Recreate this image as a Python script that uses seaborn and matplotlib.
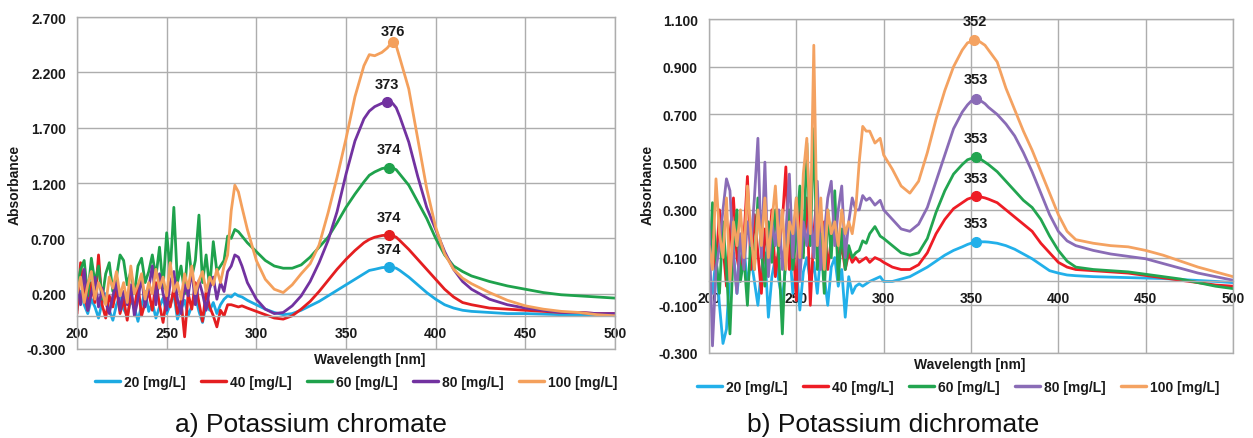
import numpy as np
import pandas as pd
import matplotlib
matplotlib.use("Agg")
import matplotlib.pyplot as plt
import seaborn as sns
from matplotlib.lines import Line2D
from matplotlib.ticker import FormatStrFormatter

# ---------------------------------------------------------------- data
concentrations = ["20 [mg/L]", "40 [mg/L]", "60 [mg/L]", "80 [mg/L]", "100 [mg/L]"]

# noisy far-UV part, sampled every 2 nm (200 ... 284 nm)
wl_uv = list(range(200, 285, 2))
# smooth part of each spectrum
wl_chromate_vis = [286, 288, 290, 292, 295, 300, 305, 310, 315, 320, 325, 330, 335,
                   340, 345, 350, 355, 360, 363, 366, 370, 373, 374, 376, 378, 380,
                   385, 390, 395, 400, 405, 410, 415, 420, 430, 440, 450, 460, 470,
                   480, 490, 500]
wl_dichromate_vis = [286, 288, 290, 292, 295, 298, 300, 305, 310, 315, 320, 325, 330,
                     335, 340, 345, 348, 350, 352, 353, 355, 358, 360, 365, 370, 375,
                     380, 385, 390, 395, 400, 405, 410, 420, 430, 440, 450, 460, 470,
                     480, 490, 500]

# a) potassium chromate absorbance
chromate_20 = [0.05, 0.22, 0.10, 0.02, 0.15, 0.08, -0.02, 0.12, 0.20, 0.05,
               -0.04, 0.10, 0.18, 0.06, 0.00, 0.14, 0.08, -0.05, 0.10, 0.22,
               0.04, 0.12, -0.02, 0.08, 0.16, 0.02, 0.10, 0.20, -0.03, 0.06,
               0.14, 0.00, 0.09, 0.18, 0.04, -0.06, 0.10, 0.05, 0.12, 0.02,
               0.10, 0.15, 0.18,
               0.17, 0.20, 0.18, 0.17, 0.14,
               0.10, 0.06, 0.03, 0.01, 0.02, 0.05, 0.09, 0.13, 0.18, 0.23, 0.28, 0.33, 0.38,
               0.41, 0.42, 0.435, 0.44, 0.44, 0.438, 0.43, 0.41,
               0.35, 0.28, 0.21, 0.15, 0.10, 0.07, 0.05, 0.04,
               0.03, 0.02, 0.02, 0.015, 0.01, 0.01, 0.01, 0.01]
chromate_40 = [0.02, 0.48, 0.20, 0.05, 0.30, 0.12, 0.55, 0.10, -0.02, 0.18,
               0.08, 0.25, 0.02, 0.15, -0.04, 0.20, 0.06, 0.28, 0.00, 0.12,
               0.22, 0.05, 0.30, 0.10, -0.06, 0.18, 0.08, 0.25, 0.02, 0.14,
               -0.19, 0.20, 0.06, 0.30, 0.12, -0.05, 0.22, 0.08, 0.00, -0.10,
               0.05, 0.00, 0.10,
               0.10, 0.09, 0.08, 0.09, 0.07,
               0.04, 0.01, -0.02, -0.03, 0.00, 0.06, 0.13, 0.22, 0.32, 0.42, 0.51, 0.59, 0.66,
               0.69, 0.71, 0.725, 0.73, 0.73, 0.725, 0.71, 0.68,
               0.60, 0.51, 0.42, 0.33, 0.24, 0.17, 0.12, 0.10,
               0.07, 0.06, 0.05, 0.04, 0.03, 0.03, 0.02, 0.02]
chromate_60 = [0.25, 0.42, 0.50, 0.18, 0.52, 0.30, 0.45, 0.15, 0.38, 0.48,
               0.22, 0.35, 0.55, 0.50, 0.28, 0.40, 0.20, 0.45, 0.52, 0.30,
               0.40, 0.55, 0.35, 0.62, 0.25, 0.75, 0.40, 0.98, 0.30, 0.45,
               0.20, 0.66, 0.35, 0.50, 0.91, 0.30, 0.55, 0.25, 0.67, 0.40,
               0.45, 0.50, 0.72,
               0.70, 0.78, 0.76, 0.72, 0.66,
               0.58, 0.50, 0.45, 0.43, 0.43, 0.46, 0.53, 0.62, 0.71, 0.84, 0.98, 1.10, 1.21,
               1.27, 1.30, 1.33, 1.34, 1.34, 1.335, 1.32, 1.28,
               1.18, 1.03, 0.88, 0.70, 0.55, 0.45, 0.40, 0.36,
               0.31, 0.27, 0.24, 0.21, 0.19, 0.18, 0.17, 0.16]
chromate_80 = [0.30, 0.10, 0.42, 0.05, 0.20, 0.35, 0.08, 0.25, 0.12, 0.02,
               0.18, 0.30, 0.05, 0.22, 0.10, 0.28, 0.00, 0.15, 0.35, 0.08,
               0.25, 0.45, 0.10, 0.38, 0.20, 0.05, 0.30, 0.40, 0.15, 0.02,
               0.28, 0.18, 0.42, 0.10, 0.32, 0.20, 0.05, 0.25, 0.35, 0.15,
               0.30, 0.22, 0.40,
               0.45, 0.55, 0.53, 0.45, 0.30,
               0.15, 0.06, 0.02, 0.03, 0.09, 0.18, 0.31, 0.48, 0.68, 0.94, 1.28, 1.58, 1.78,
               1.85, 1.89, 1.92, 1.93, 1.93, 1.92, 1.88, 1.80,
               1.57, 1.26, 0.98, 0.78, 0.58, 0.42, 0.31, 0.24,
               0.15, 0.10, 0.07, 0.05, 0.03, 0.03, 0.02, 0.02]
chromate_100 = [0.20, 0.35, 0.12, 0.28, 0.40, 0.15, 0.30, 0.22, 0.10, 0.35,
                0.25, 0.40, 0.18, 0.30, 0.12, 0.45, 0.20, 0.28, 0.38, 0.15,
                0.30, 0.20, 0.42, 0.25, 0.35, 0.18, 0.48, 0.22, 0.30, 0.15,
                0.38, 0.25, 0.45, 0.20, 0.32, 0.40, 0.22, 0.35, 0.28, 0.42,
                0.30, 0.45, 0.55,
                0.95, 1.18, 1.12, 0.98, 0.78,
                0.50, 0.33, 0.24, 0.21, 0.28, 0.38, 0.47, 0.64, 0.93, 1.25, 1.60, 1.98, 2.26,
                2.36, 2.35, 2.38, 2.42, 2.44, 2.47, 2.44, 2.33,
                2.05, 1.60, 1.15, 0.80, 0.56, 0.42, 0.34, 0.29,
                0.21, 0.14, 0.09, 0.06, 0.04, 0.03, 0.01, 0.00]

# b) potassium dichromate absorbance
dichromate_20 = [0.05, -0.05, 0.10, -0.10, -0.26, -0.20, 0.05, 0.12, -0.05, 0.08,
                 0.15, -0.02, 0.10, 0.00, -0.10, 0.05, 0.12, -0.15, 0.02, 0.10,
                 0.00, -0.08, 0.08, 0.15, -0.05, 0.06, -0.12, 0.04, 0.10, 0.00,
                 0.08, -0.05, 0.12, 0.02, -0.10, 0.06, 0.10, -0.02, 0.05, -0.15,
                 0.02, -0.05, -0.02,
                 -0.01, -0.02, -0.01, 0.00, 0.01, 0.02,
                 0.00, 0.00, 0.01, 0.02, 0.04, 0.06, 0.085, 0.11, 0.13, 0.145,
                 0.155, 0.16, 0.164, 0.165, 0.166, 0.166,
                 0.165, 0.16, 0.15, 0.135, 0.115, 0.095, 0.07, 0.045, 0.035, 0.027, 0.024,
                 0.02, 0.018, 0.016, 0.014, 0.012, 0.008, 0.004, 0.0, -0.005]
dichromate_40 = [0.10, 0.25, 0.05, 0.30, 0.15, -0.02, 0.20, 0.35, 0.10, 0.02,
                 0.18, 0.44, 0.05, 0.28, 0.12, -0.05, 0.22, 0.10, 0.30, 0.02,
                 0.15, 0.25, 0.48, 0.05, 0.20, -0.08, 0.30, 0.12, 0.35, -0.10,
                 0.20, 0.38, 0.10, 0.25, 0.05, 0.18, 0.30, 0.08, 0.15, 0.05,
                 0.12, 0.08, 0.10,
                 0.08, 0.09, 0.10, 0.08, 0.10, 0.09,
                 0.08, 0.06, 0.05, 0.05, 0.07, 0.12, 0.20, 0.26, 0.305, 0.33,
                 0.345, 0.35, 0.355, 0.357, 0.355, 0.35,
                 0.345, 0.33, 0.30, 0.27, 0.24, 0.21, 0.16, 0.12, 0.08, 0.06, 0.05,
                 0.045, 0.04, 0.035, 0.025, 0.015, 0.005, -0.005, -0.015, -0.02]
dichromate_60 = [0.00, 0.33, 0.10, -0.05, 0.25, 0.05, -0.22, 0.15, 0.30, 0.00,
                 0.10, -0.10, 0.20, 0.05, 0.35, 0.12, -0.02, 0.25, 0.08, 0.30,
                 0.10, -0.22, 0.15, 0.30, 0.05, 0.20, 0.40, 0.10, 0.58, 0.15,
                 0.64, 0.05, 0.20, -0.05, 0.30, 0.10, 0.38, 0.00, 0.22, 0.05,
                 0.15, 0.10, 0.12,
                 0.13, 0.17, 0.16, 0.20, 0.23, 0.19,
                 0.18, 0.15, 0.12, 0.11, 0.12, 0.18, 0.29, 0.38, 0.45, 0.49,
                 0.51, 0.515, 0.52, 0.52, 0.515, 0.50,
                 0.49, 0.46, 0.42, 0.38, 0.34, 0.31, 0.26, 0.19, 0.13, 0.085, 0.06,
                 0.05, 0.045, 0.04, 0.03, 0.02, 0.01, -0.005, -0.02, -0.03]
dichromate_80 = [0.25, -0.27, 0.05, 0.15, 0.30, 0.43, 0.38, 0.10, -0.05, 0.20,
                 0.05, 0.25, 0.15, 0.35, 0.60, 0.10, 0.50, 0.02, 0.25, 0.15,
                 0.30, 0.05, 0.20, 0.45, 0.10, 0.35, 0.00, 0.25, 0.15, 0.30,
                 0.10, 0.42, 0.05, 0.20, 0.35, 0.42, 0.15, 0.30, 0.40, 0.10,
                 0.25, 0.35, 0.30,
                 0.30, 0.36, 0.34, 0.35, 0.32, 0.34,
                 0.30, 0.26, 0.22, 0.21, 0.24, 0.31, 0.42, 0.53, 0.64, 0.71,
                 0.74, 0.755, 0.763, 0.765, 0.76, 0.745,
                 0.73, 0.70, 0.66, 0.61, 0.54, 0.46, 0.37, 0.28, 0.21, 0.17, 0.15,
                 0.13, 0.115, 0.105, 0.095, 0.075, 0.055, 0.035, 0.02, 0.005]
dichromate_100 = [0.15, 0.05, 0.43, 0.20, 0.10, 0.35, 0.00, 0.25, 0.15, 0.30,
                  0.10, 0.40, 0.20, 0.05, 0.30, 0.15, 0.35, 0.10, 0.25, 0.40,
                  0.15, 0.30, 0.05, 0.25, 0.20, 0.35, 0.10, 0.45, 0.60, 0.20,
                  0.99, 0.15, 0.35, 0.05, 0.30, 0.20, 0.25, 0.15, 0.30, 0.20,
                  0.25, 0.20, 0.30,
                  0.50, 0.65, 0.63, 0.63, 0.58, 0.60,
                  0.53, 0.47, 0.40, 0.37, 0.42, 0.54, 0.68, 0.80, 0.90, 0.97,
                  1.0, 1.005, 1.01, 1.01, 1.005, 0.99,
                  0.97, 0.92, 0.81, 0.72, 0.63, 0.55, 0.46, 0.37, 0.28, 0.21, 0.175,
                  0.16, 0.15, 0.145, 0.13, 0.11, 0.085, 0.06, 0.04, 0.02]

# wavelength of maximum absorbance for each concentration
peak_wl_chromate = [374, 374, 374, 373, 376]
peak_wl_dichromate = [353, 353, 353, 353, 352]

# y-axis ticks
yticks_chromate = [-0.3, 0.2, 0.7, 1.2, 1.7, 2.2, 2.7]
yticks_dichromate = [-0.3, -0.1, 0.1, 0.3, 0.5, 0.7, 0.9, 1.1]

# ---------------------------------------------------------------- style
colors_chromate = ["#1CAAE2", "#E41E20", "#1FA24C", "#7232A0", "#F4A05C"]
colors_dichromate = ["#22B0EA", "#EE1C25", "#22A550", "#8A6CB6", "#F4A261"]
GRID = "#ADADAD"

sns.set_style("white")
plt.rcParams["font.family"] = ["Liberation Sans", "DejaVu Sans"]
plt.rcParams["font.weight"] = "bold"

fig = plt.figure(figsize=(12.53, 4.39), dpi=100)
ax_a = fig.add_axes([77 / 1253, 1 - 350 / 439, 538 / 1253, 332 / 439])
ax_b = fig.add_axes([709 / 1253, 1 - 354 / 439, 524 / 1253, 334 / 439])


def draw_panel(ax, wl, series, peaks, colors, yticks, label_offsets):
    frames = [pd.DataFrame({"wavelength": wl, "absorbance": vals, "conc": name})
              for name, vals in zip(concentrations, series)]
    df = pd.concat(frames, ignore_index=True)
    sns.lineplot(data=df, x="wavelength", y="absorbance", hue="conc",
                 hue_order=concentrations, palette=colors, estimator=None,
                 sort=False, linewidth=2.0, legend=False, ax=ax)

    # peak markers with their wavelength
    for vals, pk, c, off in zip(series, peaks, colors, label_offsets):
        y = float(np.interp(pk, wl, vals))
        ax.plot(pk, y, "o", color=c, ms=7, zorder=6)
        ax.annotate(str(pk), (pk, y), xytext=(0, off), textcoords="offset points",
                    ha="center", va="center", fontsize=10.5, fontweight="bold",
                    color="#1a1a1a", zorder=7)

    ax.set_xlim(200, 500)
    ax.set_ylim(yticks[0], yticks[-1])
    ax.set_xticks(range(200, 501, 50))
    ax.set_yticks(yticks)
    ax.yaxis.set_major_formatter(FormatStrFormatter("%.3f"))
    ax.set_xlabel("")
    ax.set_ylabel("")
    ax.grid(True, color=GRID, linewidth=1.0)
    ax.set_axisbelow(True)
    for side in ["top", "left", "right", "bottom"]:
        ax.spines[side].set_color(GRID)
        ax.spines[side].set_linewidth(1.0)
    # category axis crosses the value axis at zero
    ax.spines["bottom"].set_position(("data", 0))
    ax.axhline(yticks[0], color=GRID, linewidth=1.0, clip_on=False, zorder=0)
    ax.tick_params(axis="both", length=0, labelsize=10, labelcolor="#1a1a1a")
    ax.tick_params(axis="x", pad=7)
    ax.tick_params(axis="y", pad=8)
    for lbl in ax.get_xticklabels() + ax.get_yticklabels():
        lbl.set_fontweight("bold")

    handles = [Line2D([0], [0], color=c, lw=2.5) for c in colors]
    return handles


h_a = draw_panel(ax_a, wl_uv + wl_chromate_vis,
                 [chromate_20, chromate_40, chromate_60, chromate_80, chromate_100],
                 peak_wl_chromate, colors_chromate, yticks_chromate,
                 [13, 13, 13, 13, 8])
h_b = draw_panel(ax_b, wl_uv + wl_dichromate_vis,
                 [dichromate_20, dichromate_40, dichromate_60, dichromate_80, dichromate_100],
                 peak_wl_dichromate, colors_dichromate, yticks_dichromate,
                 [14, 13, 14, 14, 14])

# axis titles
fig.text(15 / 1253, 1 - 185 / 439, "Absorbance", rotation=90, ha="center", va="center",
         fontsize=10, fontweight="bold", color="#1a1a1a")
fig.text(648 / 1253, 1 - 185 / 439, "Absorbance", rotation=90, ha="center", va="center",
         fontsize=10, fontweight="bold", color="#1a1a1a")
fig.text(370 / 1253, 1 - 360 / 439, "Wavelength [nm]", ha="center", va="center",
         fontsize=10, fontweight="bold", color="#1a1a1a")
fig.text(970 / 1253, 1 - 365 / 439, "Wavelength [nm]", ha="center", va="center",
         fontsize=10, fontweight="bold", color="#1a1a1a")

# legends
legend_kw = dict(loc="center", ncol=5, frameon=False, fontsize=10, handlelength=1.8,
                 handletextpad=0.3, columnspacing=1.1, bbox_transform=fig.transFigure)
leg_a = ax_a.legend(h_a, concentrations, bbox_to_anchor=(356 / 1253, 1 - 383 / 439), **legend_kw)
leg_b = ax_b.legend(h_b, concentrations, bbox_to_anchor=(958 / 1253, 1 - 388 / 439), **legend_kw)
for leg in (leg_a, leg_b):
    for t in leg.get_texts():
        t.set_color("#1a1a1a")
        t.set_fontweight("bold")

# panel captions
fig.text(311 / 1253, 1 - 425 / 439, "a) Potassium chromate", ha="center", va="center",
         fontsize=19, fontweight="normal", color="#111111")
fig.text(893 / 1253, 1 - 425 / 439, "b) Potassium dichromate", ha="center", va="center",
         fontsize=19, fontweight="normal", color="#111111")

fig.savefig("out.png", dpi=100, facecolor="white")
